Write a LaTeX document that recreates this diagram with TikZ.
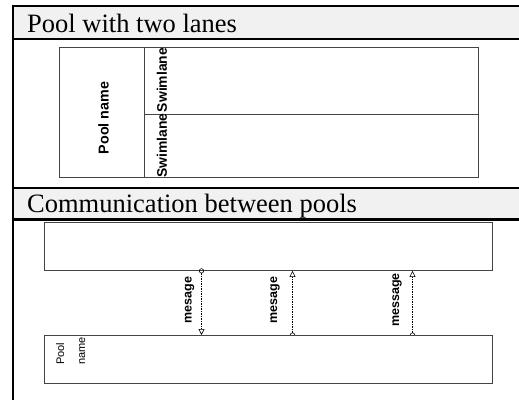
\documentclass[tikz,border=0pt]{standalone}
\usepackage{fontspec}
\setmainfont{Liberation Serif}
\setsansfont{Liberation Sans}
\usetikzlibrary{arrows.meta}
\definecolor{hdrgray}{HTML}{F1F1F1}
\definecolor{poolgray}{HTML}{444444}
\tikzset{
  frameline/.style={line width=2.3pt, line cap=rect},
  hdrfill/.style={fill=hdrgray, draw=none, anchor=north west, inner sep=0pt},
  hdrtext/.style={font=\fontsize{26.5}{30}\selectfont, anchor=base west, inner sep=0pt},
  poolbox/.style={draw=poolgray, line width=0.9pt, anchor=north west, inner sep=0pt},
  divline/.style={draw=poolgray, line width=0.9pt},
  lanelbl/.style={font=\sffamily\bfseries\fontsize{13.9}{16}\selectfont, rotate=90, inner sep=0pt},
  msglbl/.style={font=\sffamily\bfseries\fontsize{12.5}{14}\selectfont, rotate=90, inner sep=0pt},
  poolnm/.style={font=\sffamily\fontsize{11}{13}\selectfont, rotate=90, inner sep=0pt, anchor=base west},
  msgflow/.style={line width=0.6pt, dash pattern=on 1.5pt off 1pt, shorten <=-2.5pt},
  msgcirc/.tip={Circle[open, length=5pt, width=5pt, line width=0.6pt]},
  msgtri/.tip={Triangle[open, length=6pt, width=6pt, line width=0.6pt]}
}
\begin{document}
\begin{tikzpicture}[x=1pt, y=-1pt]
\useasboundingbox (0,0) rectangle (519,399);
% header backgrounds
\node[hdrfill, minimum width=507pt, minimum height=32pt] (h1) at (12.8,6.2) {};
\node[hdrfill, minimum width=507pt, minimum height=31.7pt] (h2) at (12.8,187.8) {};
\node[hdrtext] (t1) at (27,32) {Pool with two lanes};
\node[hdrtext] (t2) at (27,212.5) {Communication between pools};
% frame lines
\draw[frameline] (12.8,399) -- (12.8,6.2) -- (519,6.2);
\draw[frameline] (12.8,38.7) -- (519,38.7);
\draw[frameline] (12.8,187.8) -- (519,187.8);
\draw[frameline] (12.8,219.5) -- (519,219.5);
% pool with two lanes
\node[poolbox, minimum width=418.4pt, minimum height=130pt] (pool1) at (59.3,46.7) {};
\coordinate (div) at (144.3,46.7);
\coordinate (lanesep) at (144.3,114.3);
\draw[divline] (pool1.north -| div) -- (pool1.south -| div);
\draw[divline] (lanesep) -- (lanesep -| pool1.east);
\node[lanelbl, font=\sffamily\bfseries\fontsize{14.3}{16}\selectfont] (poolname1) at (103.5,118) {Pool name};
\node[lanelbl] (lane1) at (162,80) {Swimlane};
\node[lanelbl] (lane2) at (162,145.5) {Swimlane};
% communication between pools
\node[poolbox, minimum width=448pt, minimum height=48.3pt] (pool2) at (44.3,221.7) {};
\node[anchor=north west, inner sep=0pt, minimum width=448pt, minimum height=48.3pt] (pool3) at (44.3,335) {};
\coordinate (m1) at (201.5,300);
\coordinate (m2) at (292.5,300);
\coordinate (m3) at (412.5,300);
\draw[msgflow, msgcirc-msgtri] (pool2.south -| m1) -- (pool3.north -| m1);
\draw[msgflow, msgcirc-msgtri] (pool3.north -| m2) -- (pool2.south -| m2);
\draw[msgflow, msgcirc-msgtri] (pool3.north -| m3) -- (pool2.south -| m3);
\filldraw[fill=white, draw=poolgray, line width=0.9pt] (pool3.north west) rectangle (pool3.south east);
\node[poolnm] (pn1) at (64,365) {Pool};
\node[poolnm] (pn2) at (85,365) {name};
\node[msglbl] (ml1) at (189.5,300) {mesage};
\node[msglbl] (ml2) at (275,300) {mesage};
\node[msglbl] (ml3) at (397,300) {message};
\end{tikzpicture}
\end{document}
